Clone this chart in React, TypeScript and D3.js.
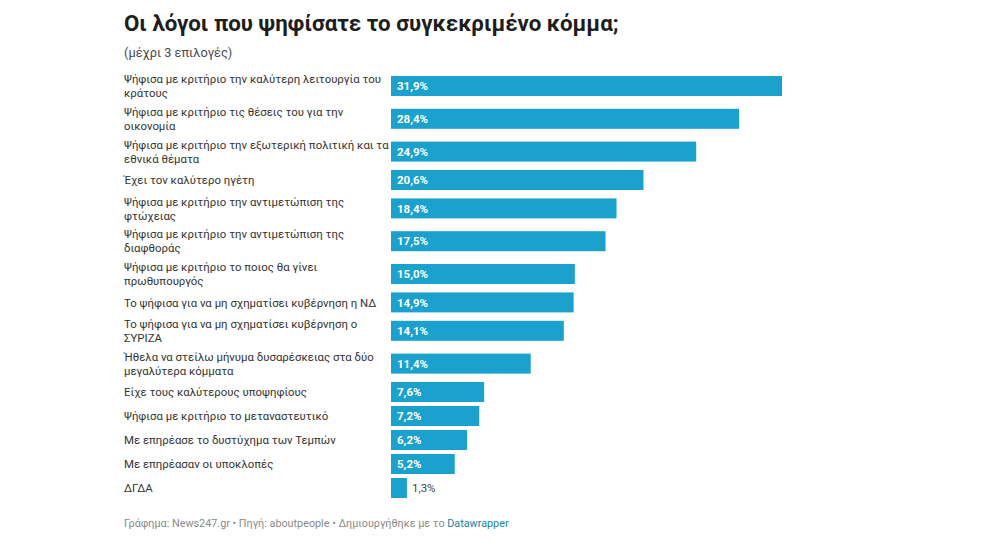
import React, { useEffect, useRef } from "react";
import * as d3 from "d3";

const labels = [
  "Ψήφισα με κριτήριο την καλύτερη λειτουργία του\nκράτους",
  "Ψήφισα με κριτήριο τις θέσεις του για την\nοικονομία",
  "Ψήφισα με κριτήριο την εξωτερική πολιτική και τα\nεθνικά θέματα",
  "Έχει τον καλύτερο ηγέτη",
  "Ψήφισα με κριτήριο την αντιμετώπιση της\nφτώχειας",
  "Ψήφισα με κριτήριο την αντιμετώπιση της\nδιαφθοράς",
  "Ψήφισα με κριτήριο το ποιος θα γίνει\nπρωθυπουργός",
  "Το ψήφισα για να μη σχηματίσει κυβέρνηση η ΝΔ",
  "Το ψήφισα για να μη σχηματίσει κυβέρνηση ο\nΣΥΡΙΖΑ",
  "Ήθελα να στείλω μήνυμα δυσαρέσκειας στα δύο\nμεγαλύτερα κόμματα",
  "Είχε τους καλύτερους υποψηφίους",
  "Ψήφισα με κριτήριο το μεταναστευτικό",
  "Με επηρέασε το δυστύχημα των Τεμπών",
  "Με επηρέασαν οι υποκλοπές",
  "ΔΓΔΑ",
];

const values = [31.9, 28.4, 24.9, 20.6, 18.4, 17.5, 15.0, 14.9, 14.1, 11.4, 7.6, 7.2, 6.2, 5.2, 1.3];

const title = "Οι λόγοι που ψηφίσατε το συγκεκριμένο κόμμα;";
const subtitle = "(μέχρι 3 επιλογές)";

const width = 997;
const height = 547;
const left = 124;
const barLeft = 391;
const barRight = 782;
const barHeight = 20;
const lineHeight = 14;
const rowGap = 4;
const startY = 71.6;
const barColor = "#1ba1cd";
const font = "Roboto, 'Noto Sans', sans-serif";

const fmt = (v: number) => v.toFixed(1).replace(".", ",") + "%";

export default function App() {
  const svgRef = useRef<SVGSVGElement>(null);

  useEffect(() => {
    const svg = d3.select(svgRef.current);
    svg.selectAll("*").remove();

    const x = d3
      .scaleLinear()
      .domain([0, d3.max(values) as number])
      .range([barLeft, barRight]);

    // stack rows: two-line labels get a taller row than the bar
    const rows: { label: string[]; value: number; top: number; h: number }[] = [];
    let y = startY;
    labels.forEach((l, i) => {
      const lines = l.split("\n");
      const h = Math.max(barHeight, lines.length * lineHeight + 0.8);
      rows.push({ label: lines, value: values[i], top: y, h });
      y += h + rowGap;
    });

    svg
      .append("text")
      .attr("x", left)
      .attr("y", 31)
      .attr("font-family", font)
      .attr("font-size", 22.3)
      .attr("font-weight", 700)
      .attr("fill", "#1d1d1d")
      .text(title);

    svg
      .append("text")
      .attr("x", left)
      .attr("y", 57)
      .attr("font-family", font)
      .attr("font-size", 12.8)
      .attr("fill", "#4a4a4a")
      .text(subtitle);

    const g = svg
      .selectAll("g.row")
      .data(rows)
      .enter()
      .append("g")
      .attr("class", "row");

    g.append("text")
      .attr("font-family", font)
      .attr("font-size", 11.4)
      .attr("fill", "#333")
      .each(function (d) {
        const t = d3.select(this);
        const c = d.top + d.h / 2;
        d.label.forEach((line, i) => {
          t.append("tspan")
            .attr("x", left)
            .attr("y", c + (i - (d.label.length - 1) / 2) * lineHeight + 4.1)
            .text(line);
        });
      });

    g.append("rect")
      .attr("x", barLeft)
      .attr("y", (d) => d.top + (d.h - barHeight) / 2)
      .attr("width", (d) => x(d.value) - barLeft)
      .attr("height", barHeight)
      .attr("fill", barColor);

    g.append("text")
      .attr("font-family", font)
      .attr("font-size", 11.5)
      .attr("font-weight", (d) => (x(d.value) - barLeft > 40 ? 700 : 400))
      .attr("fill", (d) => (x(d.value) - barLeft > 40 ? "#fff" : "#444"))
      .attr("x", (d) => (x(d.value) - barLeft > 40 ? barLeft + 6 : x(d.value) + 5))
      .attr("y", (d) => d.top + d.h / 2 + 4.2)
      .text((d) => fmt(d.value));

    const foot = svg
      .append("text")
      .attr("x", left)
      .attr("y", 527)
      .attr("font-family", font)
      .attr("font-size", 10.8)
      .attr("fill", "#8a8a8a");
    foot.append("tspan").text("Γράφημα: News247.gr • Πηγή: aboutpeople • Δημιουργήθηκε με το ");
    foot.append("tspan").attr("fill", "#1d81a2").text("Datawrapper");
  }, []);

  return (
    <svg
      ref={svgRef}
      width={width}
      height={height}
      style={{ position: "absolute", left: 0, top: 0, background: "#fff" }}
    />
  );
}
